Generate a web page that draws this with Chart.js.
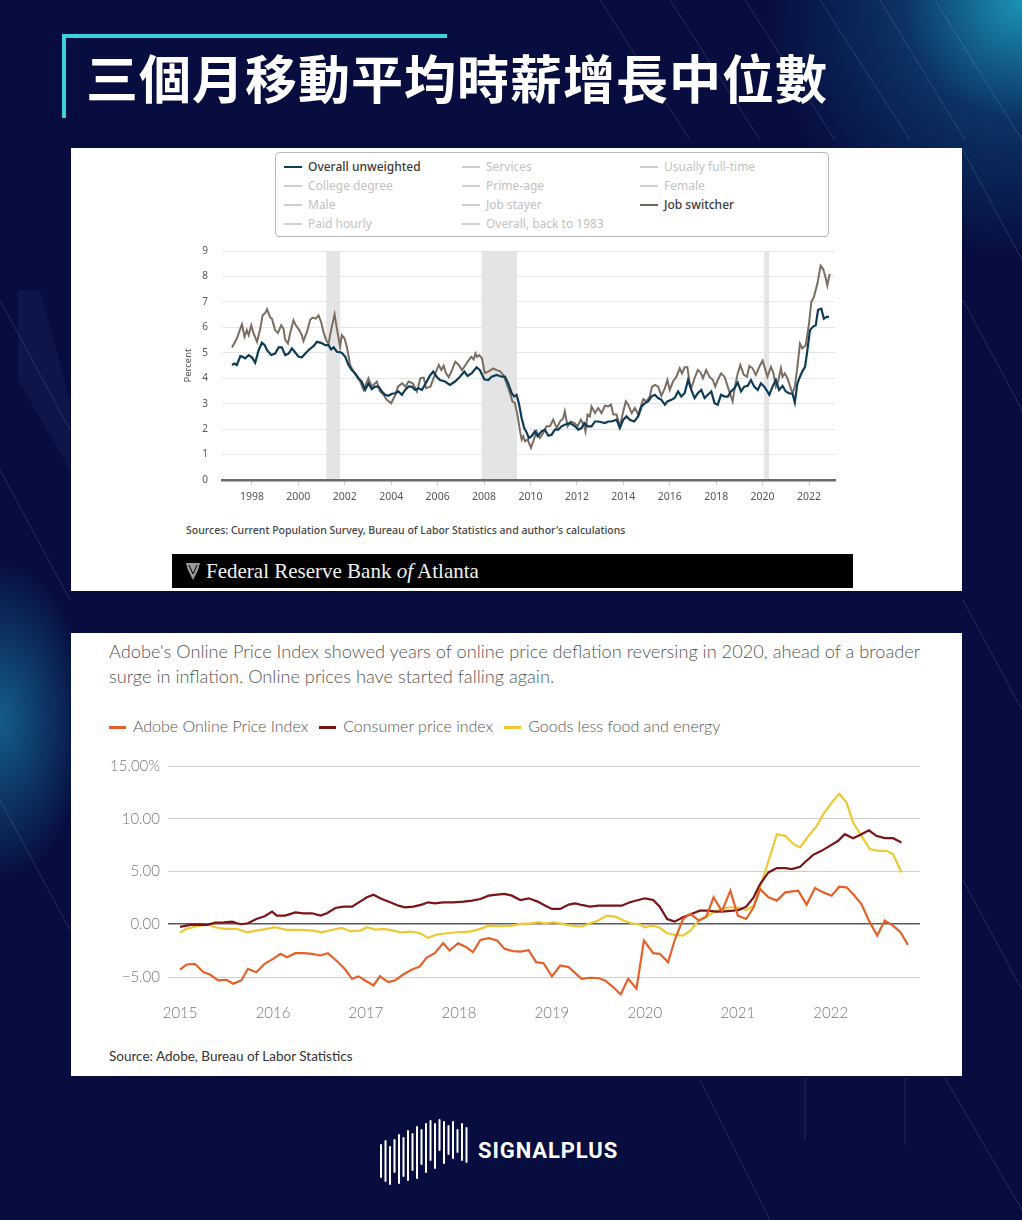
<!DOCTYPE html>
<html>
<head>
<meta charset="utf-8">
<script src="https://cdn.jsdelivr.net/npm/chart.js@4.4.0/dist/chart.umd.min.js"></script>
<style>
    html, body { margin: 0; padding: 0; }
    body { width: 1022px; height: 1220px; overflow: hidden; }
    #page {
        position: relative; width: 1022px; height: 1220px; overflow: hidden;
        background:
            radial-gradient(circle at 1022px 0px, rgba(30,170,205,0.85) 0px, rgba(20,120,170,0.35) 120px, rgba(7,13,62,0) 260px),
            radial-gradient(ellipse 90px 160px at 0px 720px, rgba(30,160,200,0.55), rgba(7,13,62,0)),
            #070d3e;
        font-family: "Noto Sans", sans-serif;
    }
    .deco { position: absolute; left: 0; top: 0; }
    .bracket-h { position: absolute; left: 62px; top: 34px; width: 385px; height: 4px; background: #3ccfdc; }
    .bracket-v { position: absolute; left: 62px; top: 34px; width: 4px; height: 84px; background: #3ccfdc; }
    .title {
        position: absolute; left: 86px; top: 44px; margin: 0;
        font-family: "Noto Sans CJK TC", sans-serif; font-weight: 700;
        font-size: 52px; line-height: 66px; letter-spacing: 1px; color: #fff;
    }
    .panel { position: absolute; background: #fff; }
    .abs { position: absolute; }

    /* Atlanta Fed legend */
    .fed-legend {
        position: absolute; left: 275px; top: 152px; width: 554px; height: 85px;
        border: 1px solid #b9b9b9; border-radius: 4px; box-sizing: border-box;
    }
    .fed-item {
        position: absolute; font-size: 12px; line-height: 16px; color: #c2c2c2;
        white-space: nowrap; font-family: "Noto Sans", sans-serif;
    }
    .fed-item::before {
        content: ""; position: absolute; left: -24px; top: 7px; width: 18px; height: 2px; background: #cfcfcf;
    }
    .fed-item.on { color: #3a3a3a; font-weight: 500; }
    .fed-item.overall::before { background: #0e3b57; }
    .fed-item.switcher::before { background: #6d6257; }
    .fed-source { position: absolute; left: 186px; top: 523px; font-size: 10.5px; color: #444; font-weight: 500; }
    .fed-banner {
        position: absolute; left: 172px; top: 554px; width: 681px; height: 34px; background: #000;
        color: #f2f2f2; font-family: "Liberation Serif", "DejaVu Serif", serif; font-size: 21px; line-height: 34px;
    }
    .fed-banner span { position: absolute; left: 34px; }

    /* Reuters chart text */
    .r-text { font-family: Lato, sans-serif; font-weight: 300; color: #555; }
    .r-sub { position: absolute; left: 109px; top: 639px; font-size: 18.2px; line-height: 25px; white-space: nowrap; }
    .r-legend { position: absolute; left: 109px; top: 715px; font-size: 16px; line-height: 22px; white-space: nowrap; }
    .r-legend span { position: relative; padding-left: 24px; margin-right: 11px; }
    .r-legend span::before { content: ""; position: absolute; left: 0; top: 10px; width: 17px; height: 3px; }
    .r-legend .adobe::before { background: #e4612c; }
    .r-legend .cpi::before { background: #7b1418; }
    .r-legend .goods::before { background: #efc933; }
    .r-source { position: absolute; left: 109px; top: 1048px; font-size: 13.5px; color: #333; font-weight: 400; font-family: Lato, sans-serif; }

    .logo-text {
        position: absolute; left: 478px; top: 1138px; font-family: Roboto, sans-serif; font-weight: 700;
        font-size: 22px; color: #fff; letter-spacing: 0.9px;
    }
</style>
</head>
<body>
<div id="page">
    <svg class="deco" width="1022" height="1220">
        <g stroke="rgba(255,255,255,0.13)" stroke-width="1" fill="none">
            <line x1="600" y1="0" x2="690" y2="140"/>
            <line x1="670" y1="0" x2="760" y2="140"/>
            <line x1="745" y1="0" x2="835" y2="140"/>
            <line x1="820" y1="0" x2="910" y2="140"/>
            <line x1="880" y1="0" x2="965" y2="140"/>
            <line x1="935" y1="0" x2="1022" y2="140"/>
            <line x1="0" y1="300" x2="70" y2="430"/>
            <line x1="0" y1="470" x2="70" y2="600"/>
            <line x1="0" y1="800" x2="70" y2="930"/>
            <line x1="963" y1="150" x2="1022" y2="260"/>
            <line x1="963" y1="300" x2="1022" y2="410"/>
            <line x1="963" y1="600" x2="1022" y2="710"/>
            <line x1="963" y1="880" x2="1022" y2="990"/>
            <line x1="805" y1="1078" x2="805" y2="1140"/>
            <line x1="905" y1="1078" x2="905" y2="1145"/>
            <line x1="945" y1="1078" x2="1022" y2="1210"/>
            <line x1="700" y1="1080" x2="770" y2="1220"/>
        </g>
        <polygon points="18,290 40,290 70,400 70,470 18,380" fill="rgba(90,130,210,0.08)"/>
        <g stroke="#fff" stroke-width="2" stroke-linecap="round">
            <line x1="381" y1="1145" x2="381" y2="1177"/>
            <line x1="385.5" y1="1141" x2="385.5" y2="1181"/>
            <line x1="390" y1="1147" x2="390" y2="1184"/>
            <line x1="394.5" y1="1140" x2="394.5" y2="1172"/>
            <line x1="399" y1="1135" x2="399" y2="1183"/>
            <line x1="403.5" y1="1138" x2="403.5" y2="1176"/>
            <line x1="408" y1="1131" x2="408" y2="1180"/>
            <line x1="412.5" y1="1134" x2="412.5" y2="1170"/>
            <line x1="417" y1="1127" x2="417" y2="1178"/>
            <line x1="421.5" y1="1130" x2="421.5" y2="1164"/>
            <line x1="426" y1="1124" x2="426" y2="1172"/>
            <line x1="430.5" y1="1121" x2="430.5" y2="1160"/>
            <line x1="435" y1="1124" x2="435" y2="1168"/>
            <line x1="439.5" y1="1120" x2="439.5" y2="1150"/>
            <line x1="444" y1="1122" x2="444" y2="1163"/>
            <line x1="448.5" y1="1126" x2="448.5" y2="1154"/>
            <line x1="453" y1="1122" x2="453" y2="1158"/>
            <line x1="457.5" y1="1130" x2="457.5" y2="1152"/>
            <line x1="462" y1="1124" x2="462" y2="1160"/>
            <line x1="466.5" y1="1128" x2="466.5" y2="1162"/>
        </g>
    </svg>

    <div class="bracket-h"></div>
    <div class="bracket-v"></div>
    <h1 class="title">三個月移動平均時薪增長中位數</h1>

    <!-- Atlanta Fed chart -->
    <div class="panel" style="left:71px; top:148px; width:891px; height:443px;"></div>
    <div class="fed-legend"></div>
    <div class="fed-item on overall" style="left:308px; top:159px;">Overall unweighted</div>
    <div class="fed-item" style="left:308px; top:178px;">College degree</div>
    <div class="fed-item" style="left:308px; top:197px;">Male</div>
    <div class="fed-item" style="left:308px; top:216px;">Paid hourly</div>
    <div class="fed-item" style="left:486px; top:159px;">Services</div>
    <div class="fed-item" style="left:486px; top:178px;">Prime-age</div>
    <div class="fed-item" style="left:486px; top:197px;">Job stayer</div>
    <div class="fed-item" style="left:486px; top:216px;">Overall, back to 1983</div>
    <div class="fed-item" style="left:664px; top:159px;">Usually full-time</div>
    <div class="fed-item" style="left:664px; top:178px;">Female</div>
    <div class="fed-item on switcher" style="left:664px; top:197px;">Job switcher</div>
    <canvas id="wageChart" class="abs" style="left:182px; top:231px;" width="660" height="279"></canvas>
    <div class="fed-source">Sources: Current Population Survey, Bureau of Labor Statistics and author's calculations</div>
    <div class="fed-banner">
        <svg class="abs" style="left:13px; top:8px;" width="16" height="19">
            <path d="M1 1 L15 1 L13 8 L10 14 L8 18 L6 14 L3 8 Z" fill="#9a9a9a"/>
            <path d="M4 3 L8 12 L12 3" stroke="#000" stroke-width="1" fill="none"/>
        </svg>
        <span>Federal Reserve Bank <i>of</i> Atlanta</span>
    </div>

    <!-- Reuters chart -->
    <div class="panel" style="left:71px; top:633px; width:891px; height:443px;"></div>
    <div class="r-text r-sub">Adobe's Online Price Index showed years of online price deflation reversing in 2020, ahead of a broader<br>surge in inflation. Online prices have started falling again.</div>
    <div class="r-text r-legend"><span class="adobe">Adobe Online Price Index</span><span class="cpi">Consumer price index</span><span class="goods">Goods less food and energy</span></div>
    <canvas id="priceChart" class="abs" style="left:100px; top:749px;" width="830" height="277"></canvas>
    <div class="r-source">Source: Adobe, Bureau of Labor Statistics</div>

    <div class="logo-text">SIGNALPLUS</div>
</div>

<script>
// Median wage growth, 3-month moving average (percent)
const overallDates = [1997.14, 1997.25, 1997.35, 1997.50, 1997.60, 1997.71, 1997.86, 1998.00, 1998.14, 1998.29,
    1998.43, 1998.55, 1998.65, 1998.83, 1999.00, 1999.15, 1999.29, 1999.43, 1999.58, 1999.72,
    1999.84, 2000.01, 2000.15, 2000.30, 2000.47, 2000.65, 2000.80, 2000.98, 2001.16, 2001.30,
    2001.41, 2001.52, 2001.66, 2001.87, 2002.02, 2002.16, 2002.30, 2002.45, 2002.59, 2002.73,
    2002.88, 2003.02, 2003.16, 2003.31, 2003.45, 2003.60, 2003.74, 2003.88, 2004.03, 2004.17,
    2004.31, 2004.46, 2004.60, 2004.74, 2004.89, 2005.03, 2005.17, 2005.32, 2005.49, 2005.68,
    2005.81, 2005.96, 2006.10, 2006.32, 2006.53, 2006.75, 2006.96, 2007.15, 2007.29, 2007.46,
    2007.68, 2007.82, 2008.01, 2008.18, 2008.33, 2008.54, 2008.76, 2008.90, 2009.04, 2009.19,
    2009.30, 2009.40, 2009.50, 2009.62, 2009.73, 2009.83, 2009.93, 2010.05, 2010.19, 2010.31,
    2010.48, 2010.62, 2010.77, 2010.91, 2011.05, 2011.20, 2011.34, 2011.48, 2011.70, 2011.92,
    2012.06, 2012.20, 2012.32, 2012.46, 2012.63, 2012.78, 2012.92, 2013.06, 2013.21, 2013.35,
    2013.49, 2013.71, 2013.85, 2014.00, 2014.14, 2014.28, 2014.47, 2014.64, 2014.79, 2014.93,
    2015.07, 2015.21, 2015.36, 2015.50, 2015.64, 2015.79, 2015.90, 2016.07, 2016.21, 2016.36,
    2016.50, 2016.64, 2016.79, 2016.93, 2017.07, 2017.21, 2017.36, 2017.50, 2017.64, 2017.79,
    2017.93, 2018.07, 2018.21, 2018.36, 2018.50, 2018.64, 2018.79, 2018.93, 2019.07, 2019.21,
    2019.36, 2019.50, 2019.64, 2019.79, 2019.93, 2020.07, 2020.21, 2020.29, 2020.43, 2020.57,
    2020.71, 2020.86, 2021.00, 2021.14, 2021.29, 2021.39, 2021.50, 2021.61, 2021.71, 2021.83,
    2021.93, 2022.04, 2022.19, 2022.29, 2022.39, 2022.53, 2022.64, 2022.76, 2022.86];
const overallValues = [4.52, 4.58, 4.52, 4.87, 4.84, 4.78, 4.91, 4.82, 4.61, 5.10,
    5.40, 5.30, 5.10, 4.91, 4.97, 5.21, 5.21, 4.91, 4.97, 5.17,
    5.04, 4.84, 4.82, 4.97, 5.13, 5.26, 5.43, 5.39, 5.30, 5.30,
    5.13, 5.21, 5.04, 5.00, 4.84, 4.52, 4.32, 4.19, 4.00, 3.87,
    3.54, 3.80, 3.57, 3.67, 3.67, 3.48, 3.35, 3.31, 3.39, 3.41,
    3.48, 3.35, 3.54, 3.67, 3.67, 3.54, 3.61, 3.54, 3.80, 4.12,
    4.26, 4.06, 3.93, 3.87, 3.74, 3.87, 4.06, 4.26, 4.09, 4.19,
    4.43, 4.32, 3.96, 3.93, 4.06, 4.13, 4.06, 4.06, 3.80, 3.41,
    3.28, 3.35, 3.02, 2.43, 2.04, 1.88, 1.65, 1.72, 1.91, 1.72,
    1.91, 1.98, 1.74, 1.78, 1.98, 1.98, 2.11, 2.17, 2.24, 2.11,
    1.98, 2.04, 2.24, 2.11, 2.11, 2.30, 2.30, 2.27, 2.24, 2.30,
    2.30, 2.37, 2.04, 2.37, 2.50, 2.37, 2.30, 2.50, 2.89, 3.02,
    3.09, 3.28, 3.35, 3.22, 3.15, 2.96, 3.09, 3.15, 3.22, 3.48,
    3.28, 3.41, 3.93, 3.54, 3.22, 3.41, 3.54, 3.22, 3.35, 3.48,
    3.02, 2.96, 3.35, 3.28, 3.28, 3.48, 3.61, 3.83, 3.48, 3.67,
    3.70, 3.93, 3.67, 3.54, 3.80, 3.67, 3.48, 3.35, 3.67, 3.93,
    3.54, 3.70, 3.48, 3.41, 3.39, 3.05, 3.80, 4.06, 4.26, 4.45,
    5.10, 5.89, 6.04, 6.08, 6.69, 6.73, 6.34, 6.41, 6.41];

const switcherDates = [1997.14, 1997.35, 1997.50, 1997.57, 1997.68, 1997.78, 1997.86, 1997.97, 1998.07, 1998.22,
    1998.36, 1998.46, 1998.57, 1998.65, 1998.79, 1998.86, 1999.00, 1999.12, 1999.26, 1999.36,
    1999.43, 1999.55, 1999.65, 1999.79, 1999.89, 2000.04, 2000.15, 2000.22, 2000.37, 2000.51,
    2000.61, 2000.75, 2000.87, 2000.98, 2001.08, 2001.20, 2001.30, 2001.41, 2001.56, 2001.66,
    2001.80, 2001.87, 2001.99, 2002.09, 2002.23, 2002.38, 2002.52, 2002.66, 2002.81, 2003.02,
    2003.16, 2003.38, 2003.52, 2003.67, 2003.81, 2004.00, 2004.18, 2004.29, 2004.47, 2004.61,
    2004.75, 2004.93, 2005.11, 2005.26, 2005.40, 2005.50, 2005.69, 2005.90, 2006.05, 2006.16,
    2006.26, 2006.36, 2006.48, 2006.62, 2006.76, 2006.91, 2007.05, 2007.20, 2007.34, 2007.45,
    2007.55, 2007.63, 2007.70, 2007.80, 2007.91, 2008.03, 2008.18, 2008.40, 2008.54, 2008.68,
    2008.83, 2008.97, 2009.12, 2009.22, 2009.33, 2009.45, 2009.55, 2009.62, 2009.69, 2009.76,
    2009.88, 2010.02, 2010.12, 2010.26, 2010.41, 2010.55, 2010.69, 2010.84, 2010.98, 2011.13,
    2011.27, 2011.41, 2011.48, 2011.60, 2011.74, 2011.89, 2012.03, 2012.17, 2012.32, 2012.37,
    2012.46, 2012.56, 2012.63, 2012.78, 2012.92, 2013.06, 2013.21, 2013.35, 2013.47, 2013.57,
    2013.71, 2013.85, 2014.00, 2014.11, 2014.21, 2014.36, 2014.50, 2014.64, 2014.86, 2015.00,
    2015.14, 2015.24, 2015.36, 2015.50, 2015.64, 2015.79, 2015.90, 2016.00, 2016.14, 2016.29,
    2016.43, 2016.53, 2016.64, 2016.76, 2016.86, 2016.93, 2017.07, 2017.21, 2017.33, 2017.43,
    2017.57, 2017.71, 2017.86, 2017.96, 2018.07, 2018.21, 2018.36, 2018.50, 2018.64, 2018.71,
    2018.81, 2018.93, 2019.04, 2019.19, 2019.33, 2019.43, 2019.57, 2019.71, 2019.86, 2020.00,
    2020.10, 2020.21, 2020.36, 2020.47, 2020.57, 2020.67, 2020.79, 2020.86, 2020.96, 2021.07,
    2021.19, 2021.29, 2021.39, 2021.50, 2021.61, 2021.71, 2021.86, 2022.00, 2022.10, 2022.21,
    2022.36, 2022.50, 2022.61, 2022.71, 2022.79, 2022.89];
const switcherValues = [5.21, 5.56, 5.95, 6.12, 5.63, 5.89, 5.69, 6.08, 5.76, 5.43,
    5.95, 6.47, 6.56, 6.71, 6.38, 6.34, 5.89, 5.78, 6.08, 5.95,
    5.52, 5.36, 5.78, 6.28, 6.08, 5.89, 5.69, 5.46, 5.82, 6.30,
    6.38, 6.34, 6.47, 6.21, 5.82, 5.49, 5.36, 5.89, 6.51, 5.95,
    5.23, 5.69, 5.56, 5.23, 4.52, 4.26, 4.06, 3.87, 3.54, 4.00,
    3.67, 3.87, 3.48, 3.35, 3.15, 3.02, 3.35, 3.67, 3.80, 3.67,
    3.87, 3.80, 3.48, 4.00, 4.02, 3.61, 3.67, 4.19, 4.52, 4.32,
    4.49, 4.19, 4.04, 4.32, 4.65, 4.52, 4.32, 4.52, 4.71, 4.84,
    4.74, 4.97, 4.84, 4.91, 4.78, 4.20, 4.26, 4.39, 4.32, 4.28,
    4.13, 3.80, 3.41, 3.09, 3.02, 2.50, 1.91, 1.59, 1.72, 1.52,
    1.59, 1.26, 1.52, 1.91, 1.65, 1.85, 2.11, 2.11, 2.37, 2.04,
    2.30, 2.43, 2.70, 2.11, 2.30, 2.24, 2.11, 2.37, 2.11, 1.91,
    2.57, 2.50, 2.89, 2.63, 2.83, 2.63, 2.92, 2.89, 2.96, 2.57,
    2.57, 2.11, 2.70, 3.09, 2.96, 2.63, 2.83, 2.57, 3.18, 3.09,
    3.28, 3.67, 3.74, 3.67, 3.31, 3.61, 3.93, 3.54, 3.87, 4.06,
    4.39, 4.19, 4.43, 4.43, 3.80, 3.61, 4.00, 4.32, 4.22, 4.00,
    4.32, 4.06, 3.93, 3.67, 3.93, 4.19, 4.06, 3.67, 3.28, 3.09,
    3.67, 4.19, 4.52, 4.13, 4.06, 4.48, 4.39, 4.13, 4.45, 4.69,
    4.39, 4.06, 4.45, 4.19, 3.67, 3.87, 4.39, 4.06, 4.19, 4.00,
    3.67, 3.41, 3.67, 4.45, 5.36, 5.17, 5.30, 6.15, 6.99, 7.19,
    7.71, 8.42, 8.29, 7.97, 7.64, 8.10];

const recessionStart = [2001.2, 2007.9, 2020.07];
const recessionEnd = [2001.8, 2009.42, 2020.28];
const wageYearTicks = [1998, 2000, 2002, 2004, 2006, 2008, 2010, 2012, 2014, 2016, 2018, 2020, 2022];
const wagePctTicks = [0, 1, 2, 3, 4, 5, 6, 7, 8, 9];

// Year-over-year change (%)
const adobeDates = [2015.00, 2015.07, 2015.16, 2015.25, 2015.32, 2015.41, 2015.50, 2015.57, 2015.66, 2015.73,
    2015.82, 2015.91, 2016.00, 2016.08, 2016.15, 2016.24, 2016.33, 2016.42, 2016.51, 2016.59,
    2016.68, 2016.77, 2016.85, 2016.92, 2017.01, 2017.08, 2017.15, 2017.24, 2017.31, 2017.40,
    2017.49, 2017.58, 2017.65, 2017.74, 2017.83, 2017.90, 2017.99, 2018.08, 2018.15, 2018.23,
    2018.32, 2018.41, 2018.49, 2018.58, 2018.66, 2018.75, 2018.83, 2018.91, 2019.00, 2019.09,
    2019.18, 2019.32, 2019.41, 2019.50, 2019.57, 2019.66, 2019.74, 2019.82, 2019.91, 2019.99,
    2020.09, 2020.16, 2020.25, 2020.32, 2020.41, 2020.49, 2020.58, 2020.66, 2020.74, 2020.83,
    2020.92, 2021.00, 2021.09, 2021.17, 2021.24, 2021.33, 2021.42, 2021.51, 2021.65, 2021.74,
    2021.83, 2021.92, 2022.01, 2022.09, 2022.17, 2022.24, 2022.33, 2022.41, 2022.50, 2022.58,
    2022.67, 2022.75, 2022.83];
const adobeValues = [-4.31, -3.81, -3.75, -4.54, -4.76, -5.32, -5.26, -5.64, -5.32, -4.22,
    -4.54, -3.75, -3.28, -2.80, -3.12, -2.74, -2.74, -2.80, -2.96, -2.74,
    -3.43, -4.22, -5.17, -4.94, -5.42, -5.80, -4.94, -5.48, -5.32, -4.76,
    -4.31, -4.00, -3.18, -2.74, -1.80, -2.49, -1.80, -2.17, -2.65, -1.48,
    -1.32, -1.54, -2.33, -2.55, -2.60, -2.46, -3.59, -3.69, -4.94, -3.91,
    -4.06, -5.17, -5.07, -5.10, -5.32, -5.95, -6.65, -5.17, -6.11, -1.54,
    -2.74, -2.80, -3.59, -1.54, 0.50, 0.98, 0.35, 0.72, 2.55, 1.23,
    3.18, 0.82, 0.50, 1.61, 3.34, 2.55, 2.24, 3.02, 3.18, 1.86,
    3.43, 3.02, 2.71, 3.56, 3.50, 2.87, 1.92, 0.35, -1.07, 0.35,
    -0.13, -0.76, -1.95];

const cpiDates = [2015.00, 2015.11, 2015.22, 2015.29, 2015.38, 2015.47, 2015.56, 2015.61, 2015.66, 2015.73,
    2015.82, 2015.91, 2015.99, 2016.04, 2016.13, 2016.24, 2016.33, 2016.42, 2016.51, 2016.58,
    2016.67, 2016.76, 2016.85, 2016.94, 2017.01, 2017.08, 2017.17, 2017.26, 2017.35, 2017.42,
    2017.51, 2017.60, 2017.67, 2017.74, 2017.83, 2017.94, 2018.05, 2018.14, 2018.23, 2018.32,
    2018.41, 2018.49, 2018.57, 2018.66, 2018.75, 2018.84, 2018.93, 2019.00, 2019.09, 2019.18,
    2019.25, 2019.32, 2019.41, 2019.50, 2019.59, 2019.68, 2019.75, 2019.84, 2019.93, 2020.00,
    2020.09, 2020.16, 2020.24, 2020.32, 2020.41, 2020.50, 2020.59, 2020.68, 2020.77, 2020.86,
    2020.95, 2021.02, 2021.09, 2021.17, 2021.24, 2021.33, 2021.42, 2021.51, 2021.58, 2021.67,
    2021.74, 2021.81, 2021.90, 2021.99, 2022.08, 2022.15, 2022.24, 2022.33, 2022.41, 2022.49,
    2022.58, 2022.67, 2022.76];
const cpiValues = [-0.25, -0.06, -0.03, -0.06, 0.16, 0.19, 0.25, 0.09, 0.00, 0.09,
    0.50, 0.76, 1.20, 0.82, 0.82, 1.13, 1.04, 1.04, 0.82, 1.04,
    1.54, 1.67, 1.67, 2.17, 2.55, 2.80, 2.39, 2.08, 1.76, 1.61,
    1.67, 1.86, 2.08, 1.98, 2.08, 2.08, 2.14, 2.24, 2.39, 2.71,
    2.80, 2.87, 2.71, 2.30, 2.46, 2.17, 1.76, 1.45, 1.45, 1.86,
    1.98, 1.83, 1.67, 1.76, 1.76, 1.76, 1.76, 2.08, 2.30, 2.46,
    2.30, 1.67, 0.50, 0.25, 0.66, 0.98, 1.29, 1.29, 1.20, 1.23,
    1.29, 1.39, 1.67, 2.55, 3.81, 4.91, 5.32, 5.32, 5.23, 5.45,
    6.02, 6.58, 6.96, 7.43, 7.91, 8.54, 8.16, 8.54, 8.91, 8.38,
    8.16, 8.16, 7.75];

const goodsDates = [2015.00, 2015.07, 2015.18, 2015.29, 2015.38, 2015.48, 2015.61, 2015.72, 2015.82, 2015.93,
    2016.02, 2016.15, 2016.29, 2016.43, 2016.52, 2016.63, 2016.74, 2016.83, 2016.94, 2017.01,
    2017.10, 2017.19, 2017.29, 2017.37, 2017.49, 2017.58, 2017.67, 2017.76, 2017.87, 2017.97,
    2018.12, 2018.23, 2018.32, 2018.44, 2018.57, 2018.66, 2018.77, 2018.86, 2018.93, 2019.02,
    2019.11, 2019.21, 2019.32, 2019.41, 2019.50, 2019.59, 2019.68, 2019.77, 2019.86, 2019.95,
    2020.00, 2020.07, 2020.15, 2020.24, 2020.32, 2020.41, 2020.49, 2020.56, 2020.65, 2020.74,
    2020.83, 2020.92, 2021.00, 2021.09, 2021.17, 2021.24, 2021.33, 2021.42, 2021.51, 2021.60,
    2021.67, 2021.76, 2021.85, 2021.92, 2022.01, 2022.09, 2022.17, 2022.24, 2022.33, 2022.42,
    2022.51, 2022.60, 2022.67, 2022.76];
const goodsValues = [-0.80, -0.44, -0.19, -0.03, -0.28, -0.44, -0.44, -0.76, -0.60, -0.44,
    -0.28, -0.54, -0.54, -0.60, -0.76, -0.54, -0.35, -0.66, -0.60, -0.28,
    -0.50, -0.44, -0.60, -0.76, -0.69, -0.85, -1.29, -0.98, -0.85, -0.76,
    -0.69, -0.44, -0.13, -0.19, -0.13, 0.03, 0.09, 0.19, 0.09, 0.19,
    0.03, -0.13, -0.22, 0.09, 0.35, 0.82, 0.72, 0.35, 0.09, -0.03,
    -0.28, -0.13, -0.28, -0.85, -1.01, -1.07, -0.60, 0.19, 0.66, 1.13,
    1.45, 1.61, 1.61, 1.35, 1.76, 3.50, 6.02, 8.54, 8.38, 7.59,
    7.28, 8.38, 9.32, 10.43, 11.53, 12.38, 11.53, 9.64, 8.38, 7.12,
    6.96, 6.96, 6.65, 4.91];

const priceYearTicks = [2015, 2016, 2017, 2018, 2019, 2020, 2021, 2022];
const pricePctTicks = [-5, 0, 5, 10, 15];

function toPoints(dates, values) {
    return dates.map((d, i) => ({ x: d, y: values[i] }));
}

// Grey bars for recessions, drawn under the lines
const recessionShade = {
    id: 'recessionShade',
    beforeDatasetsDraw(chart) {
        const { ctx, chartArea, scales } = chart;
        ctx.save();
        ctx.fillStyle = '#e4e4e4';
        recessionStart.forEach((start, i) => {
            const x0 = scales.x.getPixelForValue(start);
            const x1 = scales.x.getPixelForValue(recessionEnd[i]);
            ctx.fillRect(x0, chartArea.top, x1 - x0, chartArea.bottom - chartArea.top - 1);
        });
        ctx.restore();
    }
};

// Atlanta Fed wage growth chart
new Chart(document.getElementById('wageChart'), {
    type: 'line',
    data: {
        datasets: [{
            label: 'Overall unweighted',
            data: toPoints(overallDates, overallValues),
            borderColor: '#0e3b57',
            borderWidth: 2.2
        }, {
            label: 'Job switcher',
            data: toPoints(switcherDates, switcherValues),
            borderColor: '#7a6e63',
            borderWidth: 2
        }]
    },
    options: {
        responsive: false,
        animation: false,
        layout: { padding: { top: 5, right: 7, left: 0, bottom: 0 } },
        elements: { point: { radius: 0 }, line: { tension: 0 } },
        plugins: { legend: { display: false }, tooltip: { enabled: false } },
        scales: {
            x: {
                type: 'linear',
                min: 1996.71,
                max: 2023.12,
                afterBuildTicks: scale => { scale.ticks = wageYearTicks.map(v => ({ value: v })); },
                afterFit: scale => { scale.height = 30; },
                grid: { drawOnChartArea: false, drawTicks: true, tickLength: 5, color: '#c4c4c4' },
                border: { display: true, color: '#6a6a6a', width: 2.5 },
                ticks: {
                    autoSkip: false,
                    maxRotation: 0,
                    padding: 6,
                    color: '#555',
                    font: { family: 'Noto Sans', size: 10.5 },
                    callback: v => String(v)
                }
            },
            y: {
                min: 0,
                max: 9,
                afterBuildTicks: scale => { scale.ticks = wagePctTicks.map(v => ({ value: v })); },
                afterFit: scale => { scale.width = 40; },
                grid: { color: '#e6e6e6', drawTicks: false },
                border: { display: false },
                ticks: {
                    padding: 14,
                    color: '#555',
                    font: { family: 'Noto Sans', size: 10 },
                    callback: v => String(v)
                },
                title: {
                    display: true,
                    text: 'Percent',
                    color: '#555',
                    font: { family: 'Noto Sans', size: 9.5 },
                    padding: { top: 1, bottom: 0 }
                }
            }
        }
    },
    plugins: [recessionShade]
});

// Reuters online price chart
new Chart(document.getElementById('priceChart'), {
    type: 'line',
    data: {
        datasets: [{
            label: 'Adobe Online Price Index',
            data: toPoints(adobeDates, adobeValues),
            borderColor: '#e4612c',
            borderWidth: 2.2
        }, {
            label: 'Consumer price index',
            data: toPoints(cpiDates, cpiValues),
            borderColor: '#7b1418',
            borderWidth: 2.2
        }, {
            label: 'Goods less food and energy',
            data: toPoints(goodsDates, goodsValues),
            borderColor: '#efc933',
            borderWidth: 2.2
        }]
    },
    options: {
        responsive: false,
        animation: false,
        layout: { padding: { top: 10, right: 10, left: 0, bottom: 0 } },
        elements: { point: { radius: 0 }, line: { tension: 0 } },
        plugins: { legend: { display: false }, tooltip: { enabled: false } },
        scales: {
            x: {
                type: 'linear',
                min: 2014.87,
                max: 2022.96,
                afterBuildTicks: scale => { scale.ticks = priceYearTicks.map(v => ({ value: v })); },
                afterFit: scale => { scale.height = 30; },
                grid: { display: false },
                border: { display: false },
                ticks: {
                    autoSkip: false,
                    maxRotation: 0,
                    padding: 0,
                    color: '#777',
                    font: { family: 'Lato', size: 15, weight: 300 },
                    callback: v => String(v)
                }
            },
            y: {
                min: -6.8,
                max: 15,
                afterBuildTicks: scale => { scale.ticks = pricePctTicks.map(v => ({ value: v })); },
                afterFit: scale => { scale.width = 68; },
                grid: {
                    drawTicks: false,
                    color: ctx => ctx.tick && ctx.tick.value === 0 ? '#5a5a5a' : '#cfcfcf',
                    lineWidth: ctx => ctx.tick && ctx.tick.value === 0 ? 1.6 : 1
                },
                border: { display: false },
                ticks: {
                    padding: 8,
                    color: '#777',
                    font: { family: 'Lato', size: 15, weight: 300 },
                    callback: v => {
                        const txt = (v < 0 ? '\u2212' : '') + Math.abs(v).toFixed(2);
                        return v === pricePctTicks[pricePctTicks.length - 1] ? txt + '%' : txt;
                    }
                }
            }
        }
    }
});
</script>
</body>
</html>
